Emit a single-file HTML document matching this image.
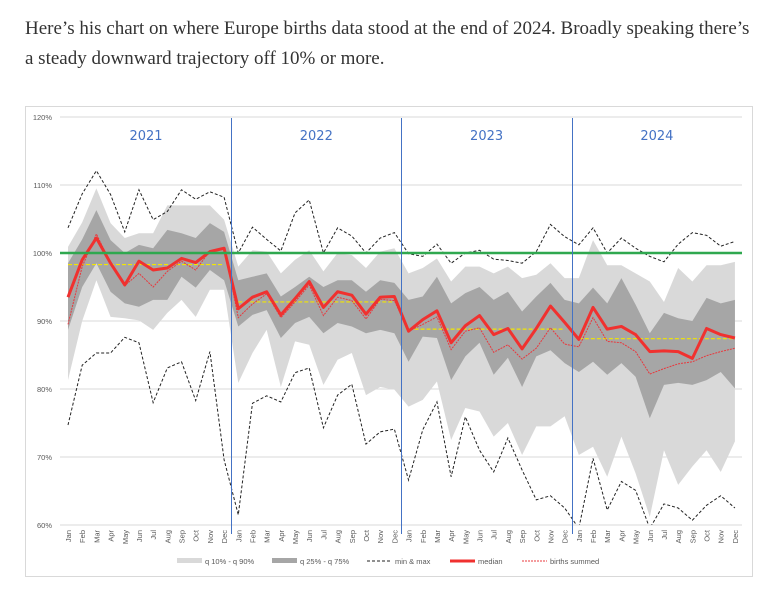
<!DOCTYPE html>
<html><head><meta charset="utf-8">
<style>
body{margin:0;background:#fff;width:776px;height:596px;overflow:hidden;}
.intro{position:absolute;left:25px;top:14px;width:760px;white-space:nowrap;font-family:"Liberation Serif",serif;font-size:19px;line-height:30px;color:#333;margin:0;}
svg{position:absolute;left:0;top:0;}
</style></head><body>
<p class="intro">Here’s his chart on where Europe births data stood at the end of 2024. Broadly speaking there’s<br>a steady downward trajectory off 10% or more.</p>
<svg id="chart" width="776" height="596"></svg>
<script>
const months=["Jan","Feb","Mar","Apr","May","Jun","Jul","Aug","Sep","Oct","Nov","Dec"];
const years=["2021","2022","2023","2024"];
const yTicks=[60,70,80,90,100,110,120];
const median=[93.5,99,102.2,98.5,95.3,98.8,97.5,97.8,99.2,98.6,100.2,100.7, 91.8,93.5,94.3,90.9,93.3,95.8,92,94.3,93.8,91,93.5,93.6, 88.5,90.2,91.5,86.8,89.3,90.8,88,88.9,85.9,88.9,92.2,89.8, 87.3,92,88.8,89.2,88,85.5,85.6,85.5,84.5,88.9,88,87.5];
const birthsSummed=[89.5,98,102.8,98.5,95.2,97,95,97.3,98.8,97.5,100.3,100.8, 90.5,92.5,94,90.5,92.8,95.3,90.8,93.5,93,90.3,93.2,93, 88.5,89.5,90.6,85.8,88.5,89,85.4,86.5,84.4,86,89,86.6, 86.2,90.5,87,86.8,85.5,82.2,83,83.7,84,84.9,85.5,86];
const maxV=[103.7,108.7,112.1,108.6,103.1,109.3,104.9,106.1,109.3,107.9,109,108.2, 100,103.8,102,100.3,105.9,107.8,100,103.7,102.5,100,102.2,103, 99.9,99.5,101.3,98.5,100,100.4,99.1,98.9,98.5,100.2,104.2,102.4, 101.2,103.7,100,102.2,100.7,99.5,98.7,101.3,103,102.6,101,101.7];
const minV=[74.7,83.5,85.3,85.3,87.6,86.8,78,83.1,84,78.3,85.5,69.6, 61.5,77.9,79,78.1,82.4,83.1,74.3,79.1,80.7,71.9,73.7,74.1, 66.6,74,78.1,67.1,75.9,71,67.8,72.8,68.1,63.7,64.3,62.5, 59.5,69.8,62.2,66.4,65.1,59.5,63.1,62.5,60.7,62.9,64.3,62.5];
const q90=[100.9,104.5,109.5,104.4,102.2,102.9,102.9,107,107,107,107,104.9, 98,100.4,100.2,97,99,100.4,97.3,100,99.7,97.8,100.2,100.7, 97,97.8,99.2,95.8,98,98,97,98,96.3,96.8,98.5,96.3, 96.3,101.9,98.2,98.2,97,95.8,92.8,97.8,95.8,98.2,98.2,98.7];
const q75=[98.5,102,106.3,101.9,100,101.2,100.7,103.4,102.9,102.2,104.4,103.1, 96,96.5,97,93.6,95,96.5,95,96,96,94.3,96,95.6, 93.1,93.6,96.5,92.6,94.1,95,93.1,94.3,91.4,93.6,95.6,93.1, 92.6,94.9,92.6,96.3,92.4,88.2,91.2,90.4,90,93.4,92.6,93.1];
const q25=[88.7,95,98.5,94.3,92.6,92.1,93.1,93.1,96.5,94.9,97.5,96, 89.2,90.9,91.6,87.5,89.7,90.6,88.2,89.7,89.2,88.2,88.7,88.2, 84,87.7,87.5,81.3,84.8,86.8,82.1,84.6,80.3,84.8,85.7,83.8, 82.5,84,82.1,83.8,81.8,75.7,80.6,80.9,80.6,81.3,82.5,80.1];
const q10=[81.3,90,96,90.6,90.4,90.1,88.7,91.2,93.1,90.6,94.6,94.6, 80.9,85.3,88.7,80.3,87,86.5,80.6,84.3,85.3,79.1,80.3,79.9, 77.4,78.4,81.1,72.5,77.2,76.7,73,75,70.3,74.5,74.5,76, 70.3,71.5,67.1,73,67.6,61.2,71,65.9,68.6,71,67.8,72.3];
const yearAvg=[98.3,92.8,88.8,87.4];

const NS="http://www.w3.org/2000/svg";
const svg=document.getElementById('chart');
const X0=68,DX=14.19,PL=60,PR=742;
const x=i=>X0+i*DX;
const y=v=>253-(v-100)*6.8;
function mk(tag,attrs,parent){const e=document.createElementNS(NS,tag);for(const k in attrs)e.setAttribute(k,attrs[k]);(parent||svg).appendChild(e);return e;}
const clip=mk('clipPath',{id:'pc'});mk('rect',{x:PL,y:y(120),width:PR-PL,height:y(60)-y(120)},clip);

let e=mk('rect',{x:25.5,y:106.5,width:727,height:470,fill:'none',stroke:'#d9d9d9'});


yTicks.forEach(t=>{
  const g=mk('line',{x1:PL,x2:PR,y1:y(t),y2:y(t),stroke:'#d9d9d9','stroke-width':1});
  
  
  const l=mk('text',{x:52,y:y(t)+3,'text-anchor':'end','font-family':'Liberation Sans, sans-serif','font-size':'7.5',fill:'#595959'});
  l.textContent=t+'%';
  
  
});
const plot=mk('g',{'clip-path':'url(#pc)'});


function band(lo,hi,fill,name){
  let d='M'+hi.map((v,i)=>x(i)+','+y(v)).join('L');
  for(let i=lo.length-1;i>=0;i--)d+='L'+x(i)+','+y(lo[i]);
  const p=mk('path',{d:d+'Z',fill:fill},plot);
  
  
}
band(q10,q90,'#d9d9d9','band-q10-q90');
band(q25,q75,'#a6a6a6','band-q25-q75');
function line(arr,attrs,name){
  const p=mk('polyline',Object.assign({points:arr.map((v,i)=>x(i)+','+y(v)).join(' '),fill:'none'},attrs),plot);
  
  
}
line(maxV,{stroke:'#222','stroke-width':1,'stroke-dasharray':'3,2'},'max-line');
line(minV,{stroke:'#222','stroke-width':1,'stroke-dasharray':'3,2'},'min-line');
yearAvg.forEach((v,k)=>{
  const a=mk('line',{x1:x(k*12),x2:x(k*12+11),y1:y(v),y2:y(v),stroke:'#f2e600','stroke-width':1.2,'stroke-dasharray':'4,2'},plot);
  
  
});
line(birthsSummed,{stroke:'#e8383d','stroke-width':1,'stroke-dasharray':'2,1'},'births-summed-line');
line(median,{stroke:'#f0312f','stroke-width':3,'stroke-linejoin':'round'},'median-line');
e=mk('line',{x1:PL,x2:PR,y1:y(100),y2:y(100),stroke:'#2fa84f','stroke-width':2.5});


years.forEach((yr,k)=>{
  if(k>0){const sx=Math.round((x(k*12-1)+x(k*12))/2)+0.5;
    const s=mk('rect',{x:sx-0.5,y:118,width:1,height:416,fill:'#4472c4'});
    
    }
  const t=mk('text',{x:(x(k*12)+x(k*12+11))/2,y:140,'text-anchor':'middle','font-family':'DejaVu Sans, sans-serif','font-size':'13',fill:'#4472c4'});
  t.textContent=yr;
  
  
});
for(let i=0;i<48;i++){
  const t=mk('text',{transform:'translate('+(x(i)+3)+',530) rotate(-90)','text-anchor':'end','font-family':'Liberation Sans, sans-serif','font-size':'7.5',fill:'#595959'});
  t.textContent=months[i%12];
  
  
}
const legend=mk('g',{});


const items=[
 ['q 10% - q 90%',177,{type:'rect',fill:'#d9d9d9'}],
 ['q 25% - q 75%',272,{type:'rect',fill:'#a6a6a6'}],
 ['min & max',367,{type:'line',stroke:'#222',w:1,dash:'3,2'}],
 ['median',450,{type:'line',stroke:'#f0312f',w:3}],
 ['births summed',522,{type:'line',stroke:'#e8383d',w:1,dash:'2,1'}]];
items.forEach(it=>{
  const g=mk('g',{},legend);
  
  
  if(it[2].type==='rect')mk('rect',{x:it[1],y:558,width:25,height:5,fill:it[2].fill},g);
  else mk('line',{x1:it[1],x2:it[1]+25,y1:561,y2:561,stroke:it[2].stroke,'stroke-width':it[2].w,'stroke-dasharray':it[2].dash||'none'},g);
  const t=mk('text',{x:it[1]+28,y:564,'font-family':'Liberation Sans, sans-serif','font-size':'7.5',fill:'#595959'},g);
  t.textContent=it[0];
});
</script>
</body></html>
